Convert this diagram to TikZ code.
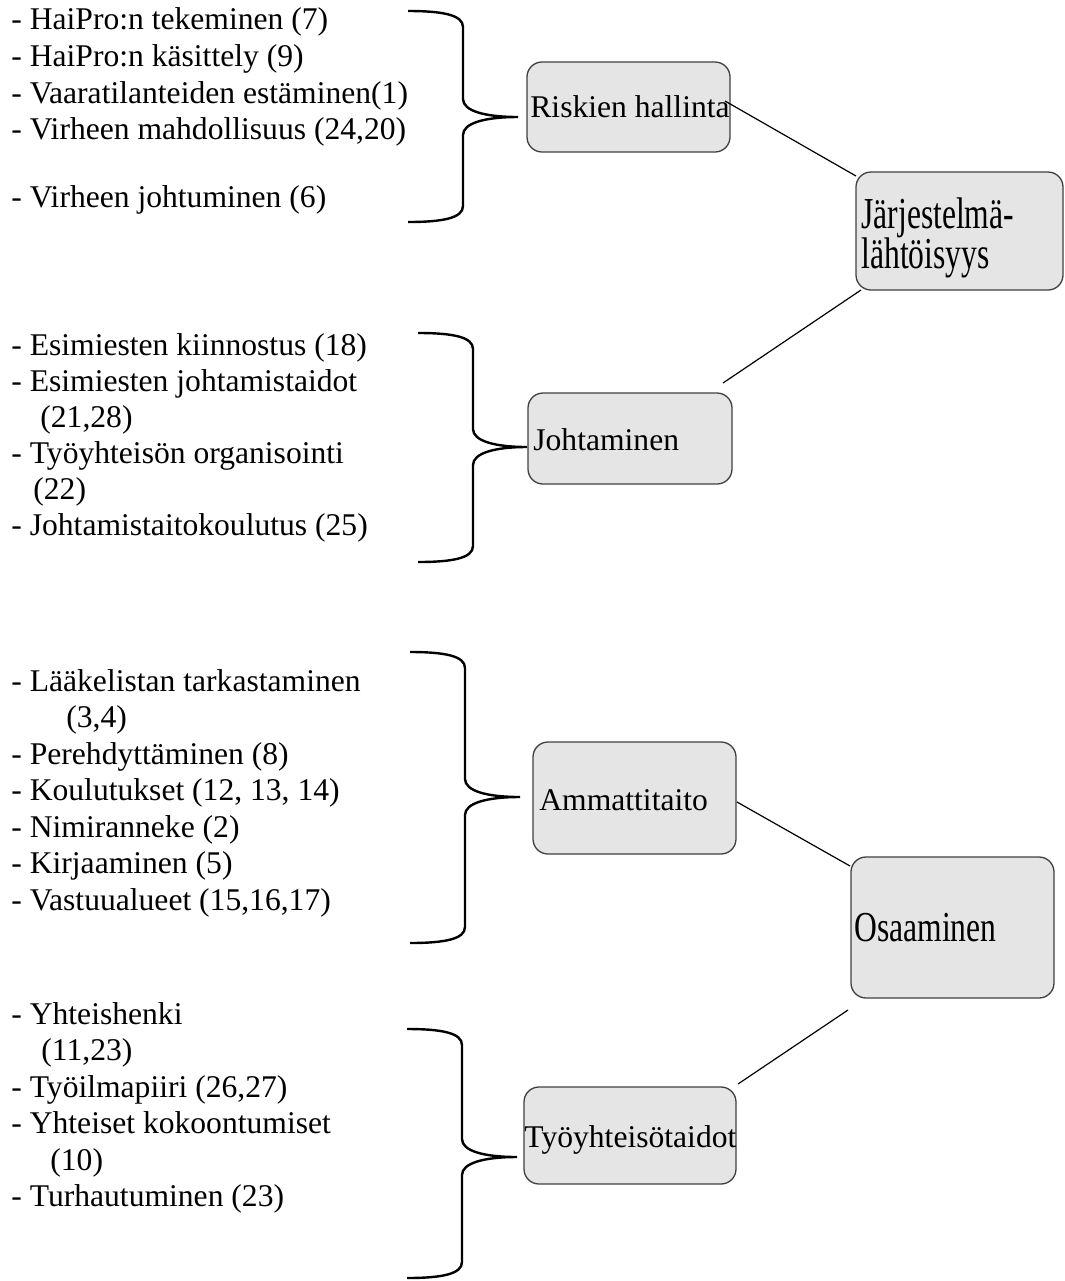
\documentclass[tikz,border=0pt]{standalone}
\usepackage{fontspec}
\setmainfont{Liberation Serif}
\usetikzlibrary{fit}
\newcommand\curlybrace[6]{% #1 end x, #2 stem x, #3 tip x, #4 top y, #5 tip y, #6 bottom y
  \draw[bracestyle] (#1,#4) .. controls ({#1+35},#4) and (#2,{#4+4}) .. (#2,{#4+16})
    -- (#2,{#5-18}) .. controls (#2,{#5-6}) and ({#2+22},#5) .. (#3,#5)
    .. controls ({#2+22},#5) and (#2,{#5+6}) .. (#2,{#5+18})
    -- (#2,{#6-16}) .. controls (#2,{#6-4}) and ({#1+35},#6) .. (#1,#6);}
\begin{document}
\begin{tikzpicture}[x=0.5pt,y=-0.5pt,
  box/.style={draw=black!75, line width=0.65pt, fill=black!10, rounded corners=7.5pt, inner sep=0pt},
  txt/.style={anchor=base west, inner sep=0pt, font=\fontsize{15.8}{18}\selectfont},
  conn/.style={line width=0.6pt},
  bracestyle/.style={line width=1.2pt}]
\useasboundingbox (0,0) rectangle (1065,1281);

% ---------- group 1 ----------
\node[txt] (a1) at (11,29)  {- HaiPro:n tekeminen (7)};
\node[txt] (a2) at (11,66)  {- HaiPro:n käsittely (9)};
\node[txt] (a3) at (11,103) {- Vaaratilanteiden estäminen(1)};
\node[txt] (a4) at (11,139) {- Virheen mahdollisuus (24,20)};
\node[txt] (a5) at (11,207) {- Virheen johtuminen (6)};
\curlybrace{408}{463}{518}{11}{117}{222}

% ---------- group 2 ----------
\node[txt] (b1) at (11,355) {- Esimiesten kiinnostus (18)};
\node[txt] (b2) at (11,391) {- Esimiesten johtamistaidot};
\node[txt] (b3) at (40,427) {(21,28)};
\node[txt] (b4) at (11,463) {- Työyhteisön organisointi};
\node[txt] (b5) at (33,499) {(22)};
\node[txt] (b6) at (11,535) {- Johtamistaitokoulutus (25)};
\curlybrace{418}{473}{527}{333}{447}{562}

% ---------- group 3 ----------
\node[txt] (c1) at (11,691)   {- Lääkelistan tarkastaminen};
\node[txt] (c2) at (66,727.5) {(3,4)};
\node[txt] (c3) at (11,764)   {- Perehdyttäminen (8)};
\node[txt] (c4) at (11,800.5) {- Koulutukset (12, 13, 14)};
\node[txt] (c5) at (11,837)   {- Nimiranneke (2)};
\node[txt] (c6) at (11,873.5) {- Kirjaaminen (5)};
\node[txt] (c7) at (11,910)   {- Vastuualueet (15,16,17)};
\curlybrace{410}{465}{520}{652}{797}{943}

% ---------- group 4 ----------
\node[txt] (d1) at (11,1024)   {- Yhteishenki};
\node[txt] (d2) at (41,1060.5) {(11,23)};
\node[txt] (d3) at (11,1097)   {- Työilmapiiri (26,27)};
\node[txt] (d4) at (11,1133.5) {- Yhteiset kokoontumiset};
\node[txt] (d5) at (50,1170)   {(10)};
\node[txt] (d6) at (11,1206.5) {- Turhautuminen (23)};
\curlybrace{407}{462}{517}{1029}{1157}{1278}

% ---------- boxes ----------
\node[box, fit={(527,62) (730,152)}] (riski) {};
\node[txt] (riskit) at (530,117) {Riskien hallinta};

\node[box, fit={(528,393) (732,484)}] (johto) {};
\node[txt] (johtot) at (533,450) {Johtaminen};

\node[box, fit={(533,742) (736,854)}] (amm) {};
\node[txt] (ammt) at (539,810) {Ammattitaito};

\node[box, fit={(524,1087) (736,1184)}] (tyo) {};
\node[txt] (tyot) at (524,1147) {Työyhteisötaidot};

\node[box, fit={(856,172) (1063,290)}] (jarj) {};
\node[txt] (jarjt1) at (861,228) {\scalebox{1}[1.4]{Järjestelmä-}};
\node[txt] (jarjt2) at (861,268) {\scalebox{1}[1.4]{lähtöisyys}};

\node[box, fit={(851,857) (1054,998)}] (osa) {};
\node[txt] (osat) at (854,941) {\scalebox{1}[1.35]{Osaaminen}};

% ---------- connectors ----------
\coordinate (r1) at (725,101);
\coordinate (r2) at (856,176);
\coordinate (j1) at (723,383);
\coordinate (j2) at (861,290);
\coordinate (m1) at (737,802);
\coordinate (m2) at (850,866);
\coordinate (o1) at (848,1010);
\coordinate (o2) at (738,1084);
\draw[conn] (r1) -- (r2);
\draw[conn] (j1) -- (j2);
\draw[conn] (m1) -- (m2);
\draw[conn] (o1) -- (o2);
\end{tikzpicture}
\end{document}
